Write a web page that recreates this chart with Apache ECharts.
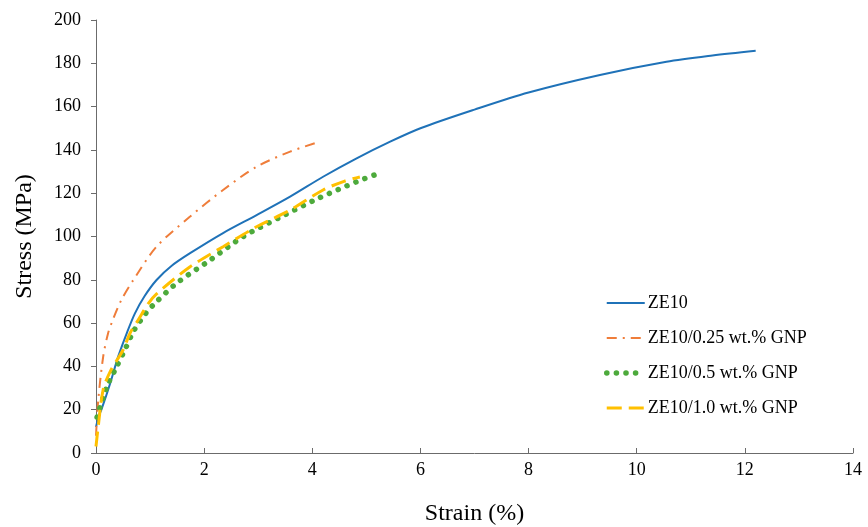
<!DOCTYPE html>
<html>
<head>
<meta charset="utf-8">
<script src="https://cdn.jsdelivr.net/npm/echarts@6/dist/echarts.min.js"></script>
<style>
  html, body { margin: 0; padding: 0; background: #fff; }
</style>
</head>
<body>
<div id="main" style="width: 868px; height: 527px;"></div>
<script>
// strain (%) / stress (MPa) pairs
const ze10 = [
  [0, 12], [0.05, 17], [0.1, 20], [0.26, 32], [0.41, 44.5], [0.57, 55.4], [0.72, 64.5],
  [0.9, 72.5], [1.12, 79.9], [1.4, 86.5], [1.74, 92.3], [2.35, 101.6], [2.97, 109.9],
  [3.59, 118.4], [4.2, 127.6], [4.82, 136.1], [5.44, 143.8], [6, 150], [7, 158.6],
  [8, 166.5], [9.32, 174.6], [10.55, 180.7], [11.4, 183.6], [12.2, 185.8]
];
const ze10_025 = [
  [0, 8], [0.04, 24], [0.13, 44], [0.22, 55], [0.31, 61.4], [0.47, 70.7], [0.69, 79.9],
  [1.12, 95.3], [1.74, 109.2], [2.35, 121.5], [2.97, 132.2], [3.59, 139.2], [4.14, 143.8]
];
const ze10_05 = [
  [0.02, 16.6], [0.2, 30.5], [0.37, 39.3], [0.54, 48], [0.7, 56.5], [0.92, 64.5],
  [1.06, 68.4], [1.49, 78.4], [2.11, 89.1], [2.72, 99.9], [3.43, 109.2], [4.11, 117.6],
  [4.82, 125.3], [5.2, 128.9]
];
const ze10_10 = [
  [0, 3], [0.04, 12], [0.13, 29], [0.26, 37.5], [0.5, 47.6], [0.63, 55.4], [0.78, 61.4],
  [0.97, 69.1], [1.12, 73.5], [1.74, 86], [2.35, 95.3], [2.97, 104.5], [3.59, 112.2],
  [4.2, 121.5], [4.6, 125.6], [4.88, 127.5]
];
const seriesNames = ['ZE10', 'ZE10/0.25 wt.% GNP', 'ZE10/0.5 wt.% GNP', 'ZE10/1.0 wt.% GNP'];

const serif = 'Liberation Serif';
const styles = [
  { width: 2, color: '#1f72b8', type: 'solid' },
  { width: 2, color: '#ef7d3a', type: [10, 6, 2, 6] },
  { width: 5.5, color: '#4daa3c', type: [0.1, 9.5], cap: 'round' },
  { width: 3, color: '#ffc000', type: [15, 7] }
];
const dataSets = [ze10, ze10_025, ze10_05, ze10_10];

const chart = echarts.init(document.getElementById('main'));

chart.setOption({
  animation: false,
  backgroundColor: '#fff',
  grid: { left: 96, right: 15, top: 20, bottom: 74, outerBoundsMode: 'none' },
  legend: {
    orient: 'vertical',
    left: 604,
    top: 294,
    padding: 0,
    itemWidth: 38,
    itemHeight: 10,
    itemGap: 17,
    itemStyle: { opacity: 0 },
    textStyle: { fontFamily: serif, fontSize: 18, color: '#000', padding: [0, 0, 0, -2] },
    data: seriesNames.map((n, i) => ({ name: n, lineStyle: Object.assign({}, styles[i]) }))
  },
  xAxis: {
    type: 'value',
    min: 0, max: 14, interval: 2,
    name: 'Strain (%)',
    nameLocation: 'middle',
    nameGap: 49,
    nameTextStyle: { fontFamily: serif, fontSize: 24, color: '#000' },
    axisLine: { lineStyle: { color: '#6b6b6b', width: 1 } },
    axisTick: { inside: true, length: 5, lineStyle: { color: '#6b6b6b' } },
    axisLabel: { fontFamily: serif, fontSize: 18, color: '#000', margin: 8 },
    splitLine: { show: false }
  },
  yAxis: {
    type: 'value',
    min: 0, max: 200, interval: 20,
    name: 'Stress (MPa)',
    nameLocation: 'middle',
    nameGap: 59,
    nameTextStyle: { fontFamily: serif, fontSize: 24, color: '#000' },
    axisLine: { show: true, lineStyle: { color: '#6b6b6b', width: 1 } },
    axisTick: { show: true, length: 5, lineStyle: { color: '#6b6b6b' } },
    axisLabel: { fontFamily: serif, fontSize: 18, color: '#000', margin: 15 },
    splitLine: { show: false }
  },
  series: seriesNames.map((n, i) => ({
    name: n,
    type: 'line',
    data: dataSets[i],
    smooth: 0.3,
    symbol: 'none',
    color: styles[i].color,
    lineStyle: styles[i]
  }))
});
</script>
</body>
</html>
